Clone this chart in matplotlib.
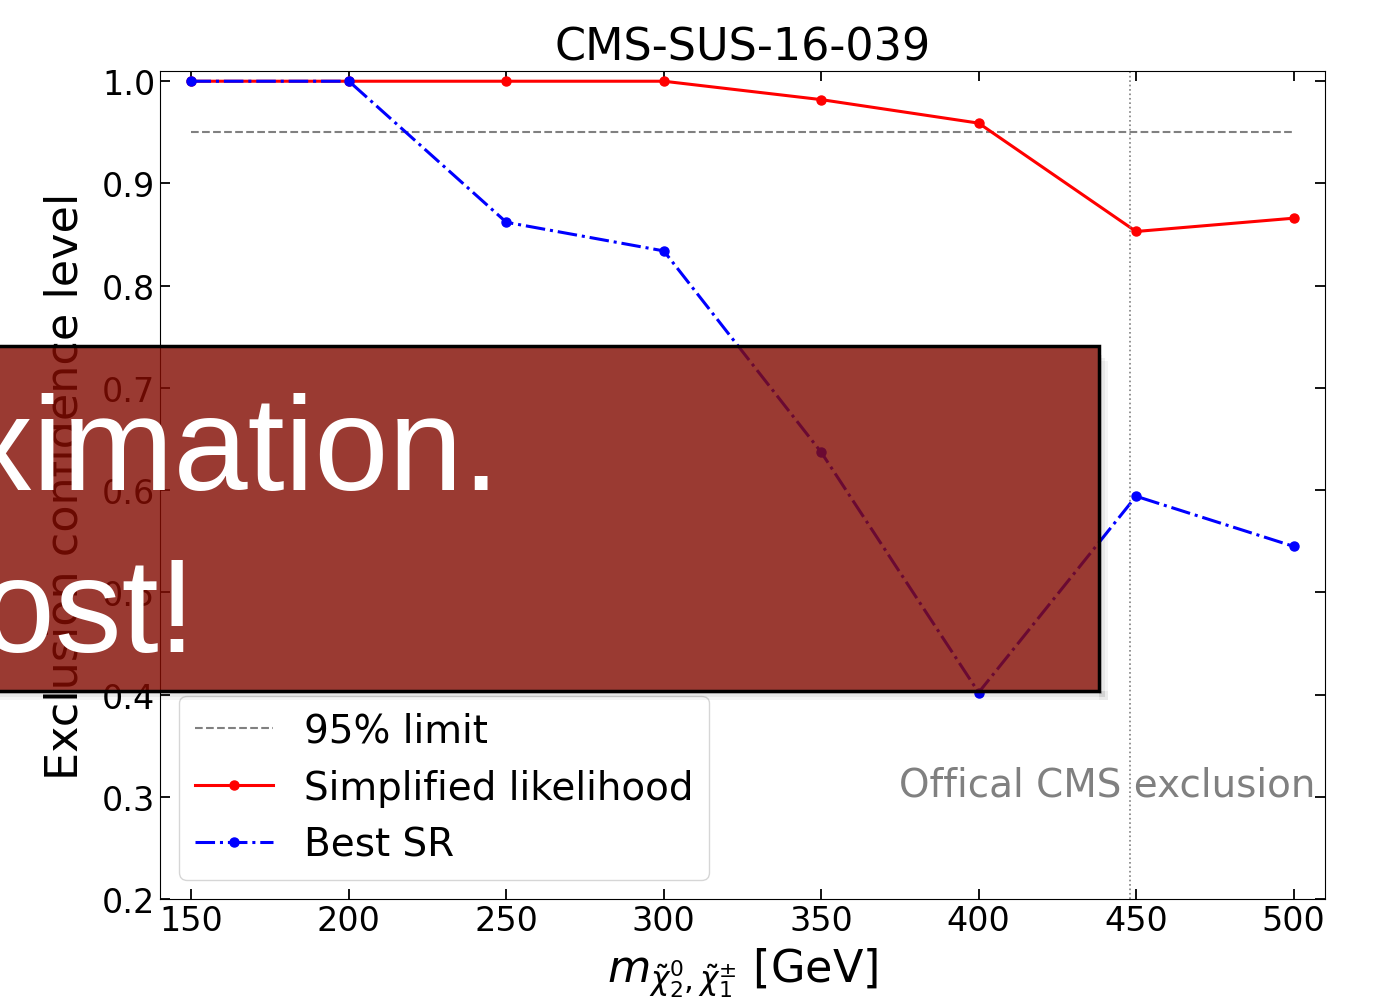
import matplotlib
matplotlib.use("Agg")
import matplotlib.pyplot as plt
from matplotlib.patches import Rectangle

masses = [150, 200, 250, 300, 350, 400, 450, 500]
simplified_cl = [1.0, 1.0, 1.0, 1.0, 0.982, 0.959, 0.853, 0.866]
best_sr_cl = [1.0, 1.0, 0.862, 0.834, 0.637, 0.402, 0.594, 0.545]
limit_cl = 0.95
cms_exclusion = 448

W, H = 1373, 1004
fig = plt.figure(figsize=(W / 100, H / 100), dpi=100)
ax = fig.add_axes([160 / W, 1 - 900 / H, 1165 / W, 828 / H])

ax.hlines(limit_cl, masses[0], masses[-1], colors="gray", linestyles="--",
          linewidth=1.5, label="95% limit")
ax.plot(masses, simplified_cl, "-", color="red", linewidth=2.2, marker="o",
        markersize=6.5, label="Simplified likelihood")
ax.plot(masses, best_sr_cl, "-.", color="blue", linewidth=2.2, marker="o",
        markersize=6.5, label="Best SR")
ax.axvline(cms_exclusion, color="gray", linestyle=":", linewidth=1.2)
ax.text(507, 0.312, "Offical CMS exclusion", color="gray", fontsize=28,
        ha="right", va="center")

ax.set_xlim(140, 510)
ax.set_ylim(0.2, 1.01)
ax.set_xticks(masses)
ax.set_yticks([0.2, 0.3, 0.4, 0.5, 0.6, 0.7, 0.8, 0.9, 1.0])
ax.tick_params(direction="in", top=True, right=True, labelsize=24,
               length=7, width=1.3)
ax.set_title("CMS-SUS-16-039", fontsize=32, pad=8)
ax.set_xlabel(r"$m_{\tilde{\chi}_2^0,\tilde{\chi}_1^{\pm}}$ [GeV]", fontsize=32,
              labelpad=6)
ax.set_ylabel("Exclusion confidence level", fontsize=32, labelpad=11)
ax.legend(loc="lower left", fontsize=28)

# slide overlay box on top of the figure
x0, x1 = -20 / W, 1099 / W
y0, y1 = 1 - 692 / H, 1 - 347 / H
# soft shadow strips below and right of the box
for off, a in [(9, 0.04), (6, 0.05), (3, 0.07)]:
    fig.add_artist(Rectangle((x0 + 6 / W, y0 - off / H), x1 - x0 + off / W - 6 / W,
                             off / H, transform=fig.transFigure,
                             facecolor="black", edgecolor="none", alpha=a,
                             zorder=9))
    fig.add_artist(Rectangle((x1, y0 - off / H), off / W, y1 - y0 - 6 / H,
                             transform=fig.transFigure, facecolor="black",
                             edgecolor="none", alpha=a, zorder=9))
fig.add_artist(Rectangle((x0, y0), x1 - x0, y1 - y0, transform=fig.transFigure,
                         facecolor=(131 / 255, 12 / 255, 2 / 255, 0.81),
                         edgecolor="black", linewidth=2.5, zorder=10))
fig.text(500 / W, 1 - 490 / H, "approximation.", color="white", fontsize=96,
         family="Liberation Sans", ha="right", va="baseline", zorder=11)
fig.text(196 / W, 1 - 652 / H, "lost!", color="white", fontsize=96,
         family="Liberation Sans", ha="right", va="baseline", zorder=11)

fig.savefig("out.png", dpi=100)
